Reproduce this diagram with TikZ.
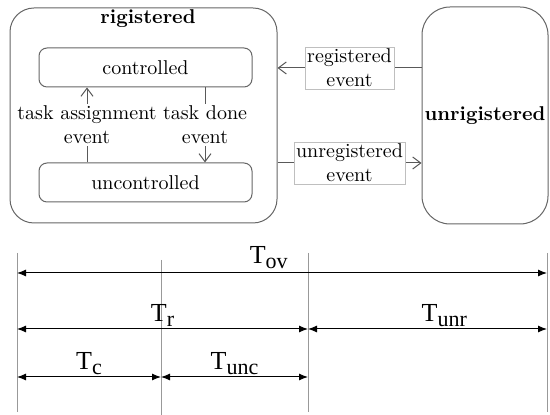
\documentclass[tikz,border=0pt]{standalone}
\usepackage{fontspec}
\usetikzlibrary{arrows.meta}
\newfontfamily\timesfont{Liberation Serif}
\newcommand{\tlab}[1]{{\timesfont\fontsize{13}{15}\selectfont T\raisebox{-2.5pt}{\fontsize{11}{13}\selectfont #1}}}
\begin{document}
\begin{tikzpicture}[x=0.5pt,y=-0.5pt,
  statebox/.style={draw=black!60, line width=0.5pt, inner sep=0pt},
  lbl/.style={fill=white, align=center, inner sep=1pt, font=\normalsize},
  evbox/.style={draw=black!25, line width=0.3pt, fill=white, align=center, inner sep=1pt, font=\normalsize},
  open/.style={draw=black!65, line width=0.5pt, -{Straight Barb[length=4pt,width=6pt]}},
  tick/.style={draw=black!40, line width=0.5pt},
  dim/.style={line width=0.5pt, {Latex[length=4.5pt,width=3.5pt]}-{Latex[length=4.5pt,width=3.5pt]}},
  dimr/.style={line width=0.5pt, -{Latex[length=4.5pt,width=3.5pt]}}]
\useasboundingbox (0,0) rectangle (550,415);

\node[statebox, rounded corners=12pt, minimum width=133.5pt, minimum height=107.5pt] (rig) at (143.5,115.5) {};
\node[font=\bfseries] (rigtitle) at (148,19) {rigistered};
\node[statebox, rounded corners=4pt, minimum width=106.5pt, minimum height=19.5pt] (ctrl) at (145.5,67.5) {controlled};
\node[statebox, rounded corners=4pt, minimum width=106.5pt, minimum height=19.5pt] (unctrl) at (145.5,182.5) {uncontrolled};
\node[statebox, rounded corners=14pt, minimum width=63pt, minimum height=108.5pt, font=\bfseries] (unrig) at (485,115.5) {unrigistered};

\coordinate (assign) at (87,125);
\coordinate (done) at (205,125);
\coordinate (regev) at (0,68);
\coordinate (unregev) at (0,163);

\draw[open] (unctrl.north -| assign) -- node[lbl] {task assignment\\event} (ctrl.south -| assign);
\draw[open] (ctrl.south -| done) -- node[lbl] {task done\\event} (unctrl.north -| done);
\draw[open] (unrig.west |- regev) -- node[evbox] {registered\\event} (rig.east |- regev);
\draw[open] (rig.east |- unregev) -- node[evbox] {unregistered\\event} (unrig.west |- unregev);

\coordinate (s0) at (17,253);
\coordinate (e0) at (17,412);
\coordinate (s1) at (161,260);
\coordinate (e1) at (161,415);
\coordinate (s2) at (308,253);
\coordinate (e2) at (308,412);
\coordinate (s3) at (547,253);
\coordinate (e3) at (547,412);
\coordinate (rov) at (0,273);
\coordinate (rr) at (0,329);
\coordinate (rc) at (0,377);

\draw[tick] (s0) -- (e0);
\draw[tick] (s1) -- (e1);
\draw[tick] (s2) -- (e2);
\draw[tick] (s3) -- (e3);

\draw[dim] (s0 |- rov) -- node[pos=0.475, above, inner sep=2pt] (tov) {\tlab{ov}} (s3 |- rov);
\draw[dim] (s0 |- rr) -- node[midway, above, inner sep=1pt] (tr) {\tlab{r}} (s2 |- rr);
\draw[dim] (s2 |- rr) -- node[pos=0.57, above, inner sep=1pt] (tunr) {\tlab{unr}} (s3 |- rr);
\draw[dim] (s0 |- rc) -- node[midway, above, inner sep=1pt] (tc) {\tlab{c}} (s1 |- rc);
\draw[dim] (s1 |- rc) -- node[midway, above, inner sep=1pt] (tunc) {\tlab{unc}} (s2 |- rc);
\end{tikzpicture}
\end{document}
